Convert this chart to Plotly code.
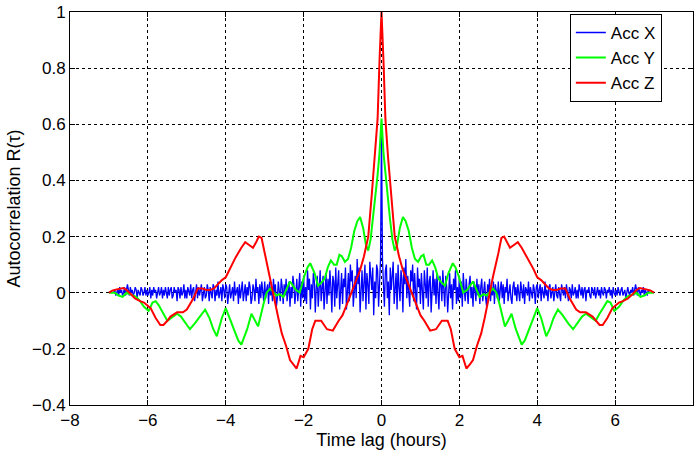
import numpy as np
import plotly.graph_objects as go

# Autocorrelation is even in the lag, R(-tau) = R(tau): values are listed for
# tau >= 0 and the negative half is filled in from that symmetry.

# Acc X, sampled every 0.025 h (values in hundredths), one row per half hour
acc_x_step = 0.025
acc_x_hundredths = [
    58,
    12, 3, -5, 8, 10, -2, 4, -8, 9, 1, 6, 11, -4, 3, 7, -6, 10, 2, -3, 8,
    5, -7, 9, 3, 12, -2, 6, 0, -5, 8, 4, 10, -3, 7, 1, -6, 9, 2, 5, -4,
    7, 1, -6, 8, 3, -2, 9, -5, 4, 6, -7, 2, 8, -1, 5, -4, 7, 0, -6, 6,
    3, -3, 8, 1, -5, 6, 2, -7, 4, 7, -2, 3, -6, 5, 1, 8, -4, 2, -3, 6,
    -2, 4, -5, 7, 1, -3, 5, 0, -4, 3, 6, -2, 2, -5, 4, 1, -3, 5, -1, 3,
    -4, 2, 5, -3, 1, 4, -2, -5, 3, 0, 5, -3, 2, -1, 4, -4, 3, 1, -2, 4,
    -3, 1, 4, -2, 3, -4, 2, 0, 5, -3, 1, 3, -2, -4, 2, 4, -1, 2, -3, 3,
    0, -3, 4, 1, -2, 3, -4, 2, 1, -1, 4, -3, 2, 0, -2, 3, 1, -4, 2, 3,
    -2, 1, 3, -3, 2, 0, -2, 4, -1, 1, -3, 2, 3, -2, 0, 2, -3, 1, 3, -1,
    -2, 2, 0, -3, 3, 1, -1, 2, -2, 3, 0, -3, 2, 1, -2, 3, -1, 0, 2, -2,
    1, -2, 3, 0, -1, 2, -2, 1, 2, -3, 1, 0, 2, -1, -2, 2, 1, -1, 2, -2,
    0, 2, -1, 1, -2, 2, 0, -1, 2, 1, -2, 1, 0, 2, -1, 1, -2, 2, 0, -1,
    1, -1, 2, 0, -1, 1, 2, -1, 0, 1, -2, 1, 2, 0, -1, 1, 0, 2, -1, 1,
    3, 1, -1, 2, 0, -1, 1, 0, 2, -1, 1, 0, -1, 1, 0,
]

# Acc Y
acc_y_lag = [0, 0.05, 0.1, 0.17, 0.22, 0.28, 0.34, 0.4, 0.47, 0.55, 0.62, 0.7, 0.78,
             0.86, 0.94, 1.02, 1.08, 1.15, 1.22, 1.3, 1.38, 1.46, 1.55, 1.63, 1.72,
             1.83, 1.9, 1.98, 2.1, 2.2, 2.35, 2.45, 2.52, 2.62, 2.7, 2.86, 2.95, 3.03,
             3.17, 3.25, 3.34, 3.45, 3.6, 3.68, 3.75, 3.88, 4.0, 4.1, 4.23, 4.32, 4.42,
             4.53, 4.65, 4.8, 4.92, 5.05, 5.15, 5.25, 5.4, 5.5, 5.6, 5.72, 5.8, 5.88,
             5.98, 6.1, 6.2, 6.3, 6.45, 6.55, 6.65, 6.75, 6.85, 7.0]
acc_y_val = [0.62, 0.5, 0.42, 0.33, 0.26, 0.19, 0.15, 0.17, 0.23, 0.27, 0.255, 0.22, 0.16,
             0.12, 0.11, 0.13, 0.135, 0.1, 0.1, 0.115, 0.09, 0.05, 0.035, 0.025, 0.07,
             0.105, 0.09, 0.06, 0.0, 0.01, 0.04, 0.01, -0.015, -0.005, -0.01, 0.015, 0.0, -0.04,
             -0.12, -0.1, -0.075, -0.13, -0.185, -0.17, -0.145, -0.1, -0.055, -0.09, -0.155, -0.13, -0.09,
             -0.06, -0.08, -0.11, -0.13, -0.105, -0.085, -0.075, -0.09, -0.1, -0.075, -0.045, -0.03, -0.035,
             -0.065, -0.05, -0.03, -0.015, -0.005, 0.0, -0.015, -0.01, 0.0, 0.0]

# Acc Z
acc_z_lag = [0, 0.05, 0.1, 0.17, 0.25, 0.34, 0.45, 0.55, 0.65, 0.78, 0.9, 1.0, 1.1,
             1.25, 1.4, 1.55, 1.7, 1.78, 1.88, 2.0, 2.08, 2.18, 2.27, 2.35, 2.45, 2.56,
             2.65, 2.72, 2.86, 3.0, 3.08, 3.15, 3.22, 3.3, 3.4, 3.5, 3.6, 3.75, 3.9,
             4.0, 4.1, 4.2, 4.3, 4.4, 4.5, 4.6, 4.72, 4.83, 5.0, 5.1, 5.25, 5.42, 5.5,
             5.6, 5.68, 5.8, 5.93, 6.1, 6.2, 6.33, 6.45, 6.55, 6.63, 6.72, 6.8, 6.9, 7.0]
acc_z_val = [1.0, 0.83, 0.62, 0.48, 0.35, 0.2, 0.13, 0.08, 0.045, 0.0, -0.045, -0.08, -0.1,
             -0.135, -0.13, -0.1, -0.1, -0.13, -0.2, -0.23, -0.225, -0.27, -0.255, -0.24, -0.19, -0.145,
             -0.09, -0.04, 0.055, 0.14, 0.195, 0.2, 0.18, 0.16, 0.17, 0.18, 0.16, 0.125, 0.085,
             0.055, 0.045, 0.03, 0.015, 0.01, 0.01, 0.015, 0.015, -0.02, -0.06, -0.07, -0.07, -0.085, -0.1,
             -0.115, -0.115, -0.09, -0.055, -0.035, -0.03, -0.02, -0.005, 0.01, 0.017, 0.015, 0.012, 0.008, 0.0]

x_ticks = [-8, -6, -4, -2, 0, 2, 4, 6, 8]
y_ticks = [-0.4, -0.2, 0, 0.2, 0.4, 0.6, 0.8, 1]
y_tick_text = ["\u22120.4", "\u22120.2", "0", "0.2", "0.4", "0.6", "0.8", "1"]


def mirror(lag, val):
    lag = np.asarray(lag, dtype=float)
    val = np.asarray(val, dtype=float)
    return (np.concatenate([-lag[::-1][:-1], lag]),
            np.concatenate([val[::-1][:-1], val]))


x_lag = np.arange(len(acc_x_hundredths)) * acc_x_step
x_val = np.asarray(acc_x_hundredths) / 100.0

series = [
    ("Acc X", mirror(x_lag, x_val), "#0000ff", 1.3),
    ("Acc Y", mirror(acc_y_lag, acc_y_val), "#00ff00", 2),
    ("Acc Z", mirror(acc_z_lag, acc_z_val), "#ff0000", 2),
]

fig = go.Figure()
for name, (lx, ly), color, width in series:
    fig.add_trace(go.Scatter(x=lx, y=ly, mode="lines", name=name,
                             line=dict(color=color, width=width)))

font = "Liberation Sans, Arial, Helvetica, sans-serif"
axis_common = dict(
    showline=True, linecolor="black", linewidth=1, mirror="allticks",
    ticks="inside", ticklen=5, tickcolor="black",
    showgrid=True, gridcolor="black", griddash="dot", gridwidth=1,
    zeroline=False, tickfont=dict(family=font, size=17, color="black"),
)

fig.update_layout(
    width=694, height=454,
    margin=dict(l=70, r=1, t=12, b=49),
    paper_bgcolor="white", plot_bgcolor="white",
    font=dict(family=font, color="black"),
    xaxis=dict(range=[-8, 8], tickvals=x_ticks,
               title=dict(text="Time lag (hours)", font=dict(size=18), standoff=2),
               **axis_common),
    yaxis=dict(range=[-0.4, 1], tickvals=y_ticks, ticktext=y_tick_text,
               title=dict(text="Autocorrelation R(\u03c4)", font=dict(size=18), standoff=6),
               **axis_common),
    legend=dict(x=0.95, y=0.995, xanchor="right", yanchor="top",
                bgcolor="white", bordercolor="black", borderwidth=1,
                font=dict(family=font, size=17, color="black")),
    showlegend=True,
)

fig.write_html("out.html")
